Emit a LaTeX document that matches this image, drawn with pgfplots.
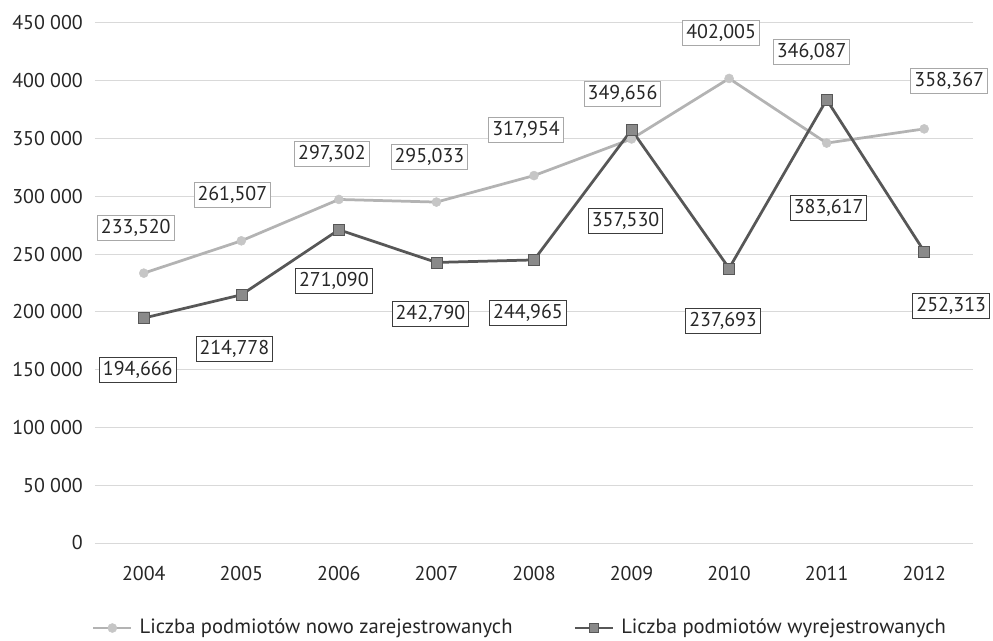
\documentclass[border=0pt]{standalone}
\usepackage{pgfplots}
\pgfplotsset{compat=1.18}
\usepackage{pgfplotstable}
\usepackage{fontspec}
\setmainfont{PT Sans}
\definecolor{lightline}{HTML}{B3B3B3}
\definecolor{lightmark}{HTML}{C6C6C6}
\definecolor{lightbox}{HTML}{A8A8A8}
\definecolor{darkline}{HTML}{575757}
\definecolor{darkmark}{HTML}{8A8A8A}
\definecolor{darkbox}{HTML}{3C3C3C}
\definecolor{txt}{HTML}{262626}
\definecolor{gridc}{HTML}{D9D9D9}

\pgfplotstableread{
x y dx dy lab
2004 233520 -8 45 233,520
2005 261507 -9 46 261,507
2006 297302 -7 45 297,302
2007 295033 -7 45 295,033
2008 317954 -8 46 317,954
2009 349656 -9 45 349,656
2010 402005 -8 45 402,005
2011 346087 -15 91 346,087
2012 358367 25 48 358,367
}\lightdata

\pgfplotstableread{
x y dx dy lab
2004 194666 -6 -52 194,666
2005 214778 -7 -54 214,778
2006 271090 -5 -51 271,090
2007 242790 -6 -52 242,790
2008 244965 -6 -53 244,965
2009 357530 -6 -91 357,530
2010 237693 -6 -53 237,693
2011 383617 2 -108 383,617
2012 252313 27 -55 252,313
}\darkdata

\begin{document}
\fontsize{20}{24}\selectfont
\begin{tikzpicture}
\begin{axis}[
  at={(0,0)}, anchor=south west,
  scale only axis, width=878bp, height=520bp,
  xmin=2003.5, xmax=2012.5, ymin=0, ymax=450000,
  xtick={2004,2005,2006,2007,2008,2009,2010,2011,2012},
  xticklabels={2004,2005,2006,2007,2008,2009,2010,2011,2012},
  ytick={0,50000,100000,150000,200000,250000,300000,350000,400000,450000},
  yticklabels={0,50 000,100 000,150 000,200 000,250 000,300 000,350 000,400 000,450 000},
  scaled y ticks=false,
  axis line style={draw=none},
  major tick length=0pt,
  ymajorgrids,
  grid style={gridc, line width=1bp},
  yticklabel style={inner sep=0pt, xshift=-12bp},
  xticklabel style={inner sep=0pt, yshift=-23bp},
  tick label style={font=\fontsize{20}{24}\selectfont, text=txt},
  clip=false,
  legend columns=2,
  legend style={at={(0.484,-0.1635)}, anchor=center, draw=none,
    font=\fontsize{20.7}{24}\selectfont, text=txt,
    /tikz/every odd column/.append style={column sep=5bp},
    /tikz/every even column/.append style={column sep=59bp}},
  legend image code/.code={\draw[mark repeat=2,mark phase=2] plot coordinates {(0bp,0bp)(19bp,0bp)(38bp,0bp)};},
  visualization depends on={\thisrow{dx}\as\dx},
  visualization depends on={\thisrow{dy}\as\dy},
  point meta=explicit symbolic,
  nodes near coords,
  every node near coord/.append style={anchor=center, xshift=\dx bp, yshift=\dy bp,
    fill=white, inner xsep=3.5bp, inner ysep=3.5bp, text height=14.5bp, text depth=3.5bp,
    line width=1bp, font=\fontsize{20}{24}\selectfont, text=txt},
]
\addplot[color=lightline, line width=2.75bp, mark=*, mark size=4.5bp,
  mark options={fill=lightmark, draw=lightmark, line width=0.5bp},
  legend image post style={mark size=4.5bp},
  every node near coord/.append style={draw=lightbox}]
  table[x=x, y=y, meta=lab] {\lightdata};
\addlegendentry{Liczba podmiotów nowo zarejestrowanych}
\addplot[color=darkline, line width=2.75bp, mark=square*, mark size=5.5bp,
  mark options={fill=darkmark, draw=darkline, line width=0.5bp},
  legend image post style={mark size=4.5bp},
  every node near coord/.append style={draw=darkbox}]
  table[x=x, y=y, meta=lab] {\darkdata};
\addlegendentry{Liczba podmiotów wyrejestrowanych}
\end{axis}
\path[use as bounding box] (-95bp,-98bp) rectangle (898bp,543bp);
\end{tikzpicture}
\end{document}
